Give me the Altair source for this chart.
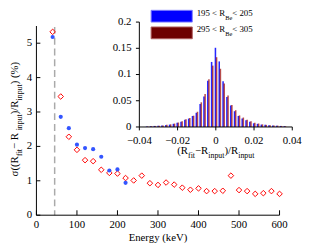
import altair as alt
import pandas as pd

# ---------------- data ----------------
energy_red = [40, 60, 80, 100, 120, 140, 160, 180, 200, 220, 240, 260, 280, 300, 320,
              340, 360, 380, 400, 420, 440, 460, 480, 500, 520, 540, 560, 580, 600]
sigma_red = [5.33, 3.45, 2.28, 1.90, 1.60, 1.57, 1.32, 1.23, 1.21, 1.08, 1.01, 1.15, 0.93, 0.88, 0.95,
             0.89, 0.80, 0.74, 0.78, 0.70, 0.70, 0.71, 1.15, 0.73, 0.70, 0.62, 0.64, 0.70, 0.62]
energy_blue = [40, 60, 80, 100, 120, 140, 160, 180, 200, 220]
sigma_blue = [5.18, 2.86, 2.53, 2.05, 1.95, 1.92, 1.70, 1.30, 1.33, 0.94]
cut_energy = [45]
x_ticks = [0, 100, 200, 300, 400, 500, 600]
y_ticks = [0, 1, 2, 3, 4, 5]
x_domain = [0, 600]
y_domain = [0, 5.5]

bin_centers = [k * 0.002 for k in range(-18, 19)]
h_blue = [0.001, 0.0015, 0.002, 0.0025, 0.003, 0.0035, 0.0045, 0.006, 0.008, 0.010, 0.014, 0.016,
          0.021, 0.027, 0.044, 0.058, 0.088, 0.124, 0.151, 0.125, 0.087, 0.057, 0.041, 0.030,
          0.021, 0.016, 0.013, 0.010, 0.007, 0.006, 0.0045, 0.004, 0.0035, 0.003, 0.0025, 0.002, 0.0015]
h_red = [0.001, 0.0015, 0.002, 0.0025, 0.003, 0.004, 0.005, 0.0065, 0.0085, 0.011, 0.0145, 0.017,
         0.0215, 0.029, 0.047, 0.063, 0.091, 0.117, 0.133, 0.111, 0.083, 0.060, 0.042, 0.032,
         0.022, 0.018, 0.014, 0.011, 0.008, 0.0065, 0.005, 0.004, 0.0035, 0.003, 0.0025, 0.002, 0.0015]
inset_x_ticks = [-0.04, -0.02, 0, 0.02, 0.04]
inset_y_ticks = [0, 0.05, 0.1, 0.15, 0.2]
legend_ranges = [("195", "205"), ("295", "305")]
x_title = "Energy (keV)"

# ---------------- layout ----------------
W, H = 248, 193
FONT = "Liberation Serif"
BLUE_PT = "#3355ff"
RED_PT = "#ff0000"
BLUE_H = "#0000ff"
RED_H = "#990000"
IX0, IX1 = 105, 261      # inset x pixel range (plot coords)
IY0, IY1 = 103, -4       # inset y pixel range (plot coords)

GLYPH_W = {'(': 333, ')': 333, 'R': 667, 'f': 333, 'i': 278, 't': 278, 'n': 500, 'p': 500,
           'u': 500, '−': 564, '/': 278, 'σ': 560, ' ': 250, '%': 833, 'B': 667, 'e': 444,
           '<': 564}


def text_w(s, size):
    return sum(GLYPH_W.get(c, 500) for c in s) * size / 1000.0


def one():
    return pd.DataFrame({"a": [0]})


def seg_text(s, x, y, size, angle=0):
    return alt.Chart(pd.DataFrame({"t": [s]})).mark_text(
        font=FONT, fontSize=size, align="left", baseline="alphabetic", angle=angle,
        color="black"
    ).encode(text="t:N", x=alt.value(x), y=alt.value(y))


def rich_h(segs, x0, y_main, y_sub, size, sub_size):
    out = []
    x = x0
    for s, sub in segs:
        sz = sub_size if sub else size
        out.append(seg_text(s, x, y_sub if sub else y_main, sz))
        x += text_w(s, sz)
    return out


def rich_v(segs, x_main, x_sub, yc, size, sub_size):
    total = sum(text_w(s, sub_size if sub else size) for s, sub in segs)
    y = yc + total / 2
    out = []
    for s, sub in segs:
        sz = sub_size if sub else size
        out.append(seg_text(s, x_sub if sub else x_main, y, sz, angle=270))
        y -= text_w(s, sz)
    return out


# ---------------- main plot ----------------
xs = alt.Scale(domain=x_domain, nice=False, zero=False)
ys = alt.Scale(domain=y_domain, nice=False)

df_red = pd.DataFrame({"E": energy_red, "s": sigma_red})
df_blue = pd.DataFrame({"E": energy_blue, "s": sigma_blue})

red_pts = alt.Chart(df_red).mark_point(
    shape="diamond", filled=False, color=RED_PT, size=32, strokeWidth=1, opacity=1
).encode(x=alt.X("E:Q", scale=xs, axis=None), y=alt.Y("s:Q", scale=ys, axis=None))
blue_pts = alt.Chart(df_blue).mark_circle(size=18, color=BLUE_PT, opacity=1).encode(
    x=alt.X("E:Q", scale=xs, axis=None), y=alt.Y("s:Q", scale=ys, axis=None)
)
cut = alt.Chart(pd.DataFrame({"E": cut_energy})).mark_rule(
    color="#aaaaaa", strokeWidth=1.5, strokeDash=[7, 4]
).encode(x=alt.X("E:Q", scale=xs, axis=None), y=alt.value(1), y2=alt.value(H))

df_xt = pd.DataFrame({"v": x_ticks})
df_yt = pd.DataFrame({"v": y_ticks})
xt = alt.Chart(df_xt).mark_rule(color="black", strokeWidth=1).encode(
    x=alt.X("v:Q", scale=xs, axis=None), y=alt.value(H), y2=alt.value(H - 5))
yt = alt.Chart(df_yt).mark_rule(color="black", strokeWidth=1).encode(
    y=alt.Y("v:Q", scale=ys, axis=None), x=alt.value(0), x2=alt.value(4))
xl = alt.Chart(df_xt).mark_text(font=FONT, fontSize=11, baseline="middle", align="center",
                                color="black").encode(
    x=alt.X("v:Q", scale=xs, axis=None), y=alt.value(H + 10), text=alt.Text("v:Q", format="d"))
yl = alt.Chart(df_yt).mark_text(font=FONT, fontSize=11, baseline="middle", align="right",
                                color="black").encode(
    y=alt.Y("v:Q", scale=ys, axis=None), x=alt.value(-4.5), text=alt.Text("v:Q", format="d"))
x_dom = alt.Chart(one()).mark_rule(color="black", strokeWidth=1).encode(
    x=alt.value(0), x2=alt.value(W), y=alt.value(H))
y_dom = alt.Chart(one()).mark_rule(color="black", strokeWidth=1).encode(
    x=alt.value(0), y=alt.value(0), y2=alt.value(H))
xtitle = alt.Chart(pd.DataFrame({"t": [x_title]})).mark_text(
    font=FONT, fontSize=11, baseline="middle", align="center", color="black"
).encode(x=alt.value(W / 2), y=alt.value(H + 23), text="t:N")

main = alt.layer(cut, red_pts, blue_pts, xt, yt, xl, yl, x_dom, y_dom, xtitle)

# ---------------- inset ----------------
ixs = alt.Scale(domain=[inset_x_ticks[0], inset_x_ticks[-1]], range=[IX0, IX1], nice=False, zero=False)
iys = alt.Scale(domain=[inset_y_ticks[0], inset_y_ticks[-1]], range=[IY0, IY1], nice=False)

df_hb = pd.DataFrame({"c": bin_centers, "h": h_blue})
df_hb["lo"] = df_hb["c"] - 0.0006
df_hb["hi"] = df_hb["c"] + 0.0002
df_hb["z"] = 0.0
df_hr = pd.DataFrame({"c": bin_centers, "h": h_red})
df_hr["lo"] = df_hr["c"]
df_hr["hi"] = df_hr["c"] + 0.0008
df_hr["z"] = 0.0

hb = alt.Chart(df_hb).mark_rect(color=BLUE_H, opacity=0.85).encode(
    x=alt.X("lo:Q", scale=ixs, axis=None), x2="hi:Q",
    y=alt.Y("h:Q", scale=iys, axis=None), y2="z:Q",
)
hr = alt.Chart(df_hr).mark_rect(color=RED_H, opacity=0.7).encode(
    x=alt.X("lo:Q", scale=ixs, axis=None), x2="hi:Q",
    y=alt.Y("h:Q", scale=iys, axis=None), y2="z:Q",
)
df_ixt = pd.DataFrame({"v": inset_x_ticks})
df_iyt = pd.DataFrame({"v": inset_y_ticks})
ix_dom = alt.Chart(pd.DataFrame({"a": [inset_x_ticks[0]], "b": [inset_x_ticks[-1]]})).mark_rule(
    color="black", strokeWidth=1).encode(
    x=alt.X("a:Q", scale=ixs, axis=None), x2="b:Q", y=alt.value(IY0))
iy_dom = alt.Chart(pd.DataFrame({"a": [inset_y_ticks[0]], "b": [inset_y_ticks[-1]]})).mark_rule(
    color="black", strokeWidth=1).encode(
    y=alt.Y("a:Q", scale=iys, axis=None), y2="b:Q", x=alt.value(IX0))
ixt = alt.Chart(df_ixt).mark_rule(color="black", strokeWidth=1).encode(
    x=alt.X("v:Q", scale=ixs, axis=None), y=alt.value(IY0), y2=alt.value(IY0 + 3.5))
iyt = alt.Chart(df_iyt).mark_rule(color="black", strokeWidth=1).encode(
    y=alt.Y("v:Q", scale=iys, axis=None), x=alt.value(IX0 - 3.5), x2=alt.value(IX0))
ixl = alt.Chart(df_ixt).mark_text(font=FONT, fontSize=11, baseline="middle", align="center",
                                  color="black").encode(
    x=alt.X("v:Q", scale=ixs, axis=None), y=alt.value(IY0 + 14), text=alt.Text("v:Q", format="~g"))
iyl = alt.Chart(df_iyt).mark_text(font=FONT, fontSize=11, baseline="middle", align="right",
                                  color="black").encode(
    y=alt.Y("v:Q", scale=iys, axis=None), x=alt.value(IX0 - 8), text=alt.Text("v:Q", format="~g"))

inset = alt.layer(hb, hr, ix_dom, iy_dom, ixt, iyt, ixl, iyl)

# ---------------- legend ----------------
LEG_DY = 3
leg_rects = [
    alt.Chart(one()).mark_rect(fill=BLUE_H, stroke="#8080ff", strokeWidth=1).encode(
        x=alt.value(117), x2=alt.value(159), y=alt.value(-19 + LEG_DY), y2=alt.value(-7 + LEG_DY)),
    alt.Chart(one()).mark_rect(fill="#6e0000", stroke="#b06060", strokeWidth=1).encode(
        x=alt.value(117), x2=alt.value(159), y=alt.value(-2 + LEG_DY), y2=alt.value(10 + LEG_DY)),
]
leg_texts = []
for (lo, hi), yb in zip(legend_ranges, [-13 + LEG_DY, 3.5 + LEG_DY]):
    leg_texts += rich_h([(f"{lo} < R", 0), ("Be", 1), (f" < {hi}", 0)], 163.5, yb, yb + 3.5, 9, 6.5)

# ---------------- titles with subscripts ----------------
inset_title_segs = [("(R", 0), ("fit", 1), ("−R", 0), ("input", 1), (")/R", 0), ("input", 1)]
tw = sum(text_w(s, 8 if sub else 11) for s, sub in inset_title_segs)
inset_title = rich_h(inset_title_segs, (IX0 + IX1) / 2 - tw / 2, 131, 134.5, 11, 8)

y_title = rich_v([("σ((R", 0), ("fit", 1), (" − R", 0), ("input", 1), (")/R", 0), ("input", 1),
                  (") (%)", 0)], -18.5, -15, 95, 11, 8)

chart = alt.layer(main, inset, *leg_rects, *leg_texts, *inset_title, *y_title).resolve_scale(
    x="independent", y="independent"
).properties(
    width=W, height=H,
    autosize=alt.AutoSizeParams(type="none"),
    padding={"left": 29, "top": 16, "right": 27, "bottom": 26},
).configure_view(stroke=None)

chart.save("out.html", embed_options={"renderer": "svg", "actions": False})
